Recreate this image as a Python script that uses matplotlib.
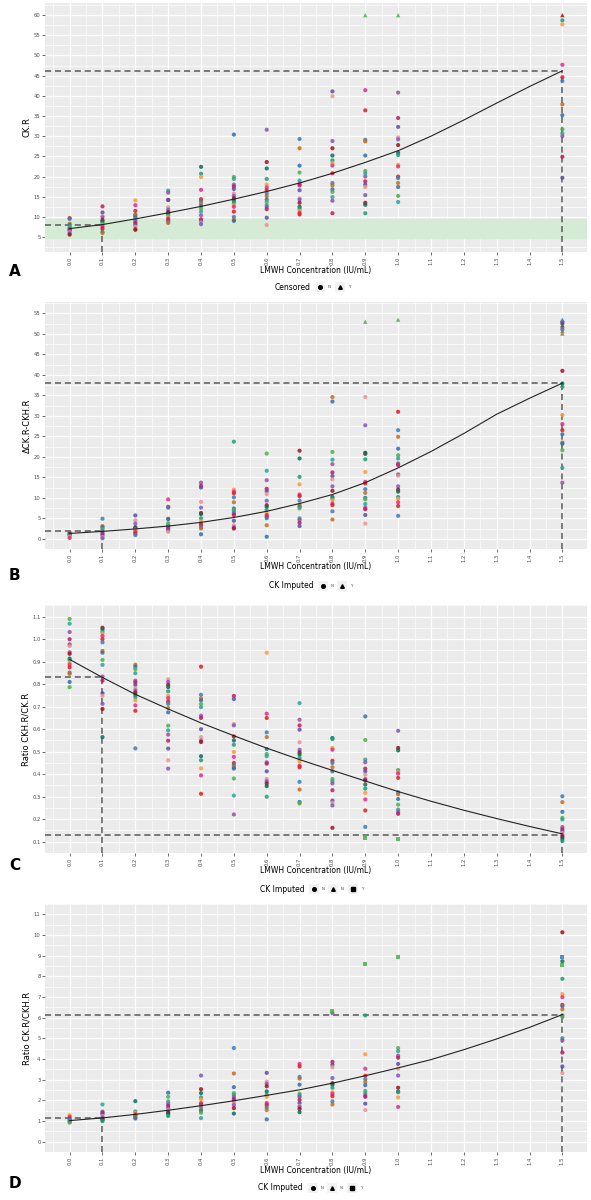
import matplotlib
matplotlib.use("Agg")
import matplotlib.pyplot as plt
from matplotlib.lines import Line2D
from matplotlib.patches import Rectangle

# LMWH concentration levels (x positions of the point columns)
conc = [0.0, 0.1, 0.2, 0.3, 0.4, 0.5, 0.6, 0.7, 0.8, 0.9, 1.0, 1.5]
x_ticks = [0.0, 0.1, 0.2, 0.3, 0.4, 0.5, 0.6, 0.7, 0.8, 0.9, 1.0, 1.1, 1.2, 1.3, 1.4, 1.5]

# A: CK.R per concentration
ck_r = [
    [9.7, 9.5, 8.3, 8.0, 7.6, 7.2, 7.0, 6.8, 6.5, 6.2, 5.9, 5.6],
    [12.6, 11.1, 10.2, 9.9, 9.2, 8.8, 8.4, 8.0, 7.6, 7.1, 6.3, 6.0],
    [14.1, 12.9, 11.5, 10.6, 10.3, 9.9, 9.5, 9.2, 8.8, 8.4, 8.0, 7.6, 7.0, 6.8],
    [16.5, 16.0, 14.2, 14.2, 12.4, 11.8, 11.2, 10.8, 10.4, 10.0, 9.6, 9.2, 8.8, 8.5],
    [22.4, 20.7, 19.9, 16.7, 14.4, 13.9, 13.3, 12.7, 12.1, 11.3, 10.4, 9.4, 8.9, 8.6, 8.2],
    [30.4, 19.9, 19.4, 18.0, 17.5, 16.9, 15.8, 15.2, 14.6, 14.0, 13.4, 12.9, 12.5, 11.3, 10.0, 9.3, 9.0],
    [31.6, 23.6, 22.0, 19.4, 18.0, 17.3, 16.6, 15.8, 15.1, 14.3, 13.7, 12.9, 12.5, 11.9, 9.8, 8.0],
    [29.3, 27.0, 22.7, 21.0, 19.0, 18.2, 17.8, 16.6, 14.6, 14.3, 13.5, 12.5, 12.0, 11.5, 11.0, 10.6],
    [41.1, 39.9, 28.8, 27.0, 25.2, 24.0, 23.3, 22.7, 20.8, 18.4, 17.8, 16.8, 16.2, 14.9, 14.0, 10.9],
    [41.4, 36.4, 29.1, 28.7, 25.2, 21.4, 20.8, 20.0, 18.8, 18.0, 17.4, 15.4, 13.5, 13.0, 10.9],
    [40.8, 34.5, 32.3, 29.7, 29.2, 27.8, 25.9, 25.3, 22.9, 22.5, 20.0, 19.6, 18.4, 17.4, 15.2, 13.7],
    [58.7, 57.7, 47.7, 44.6, 43.7, 37.9, 35.2, 31.7, 30.7, 30.0, 24.9, 19.7],
]
ck_r_cens_x = [0.9, 1.0, 1.5]
ck_r_cens_y = [60.0, 60.0, 60.0]

# B: delta CK.R - CKH.R
delta = [
    [1.5, 1.2, 1.0, 0.8, 0.5, 0.2],
    [4.9, 3.1, 2.8, 2.4, 2.0, 1.6, 1.2, 0.8, 0.4, 0.1],
    [5.7, 4.5, 3.7, 2.8, 2.6, 2.3, 2.0, 1.7, 1.3, 0.9],
    [9.6, 7.8, 7.6, 4.9, 4.8, 3.8, 3.3, 2.9, 2.5, 2.1, 1.7],
    [13.7, 12.9, 12.5, 9.0, 7.6, 6.3, 6.0, 5.0, 4.2, 3.7, 3.3, 2.8, 2.5, 1.1],
    [23.7, 12.0, 11.5, 11.1, 10.1, 8.9, 7.4, 7.0, 6.6, 6.2, 5.8, 4.4, 3.3, 2.8, 2.5],
    [20.8, 16.6, 14.3, 12.2, 11.6, 10.9, 9.3, 8.2, 7.8, 7.0, 6.2, 5.8, 5.4, 5.0, 3.3, 0.5],
    [21.5, 19.6, 15.1, 13.3, 10.8, 10.4, 9.3, 8.2, 7.8, 7.4, 5.0, 4.6, 3.9, 3.1],
    [34.6, 33.5, 21.2, 19.3, 18.2, 16.2, 15.3, 14.5, 12.8, 11.7, 10.2, 9.8, 9.4, 8.6, 8.2, 6.7, 4.7],
    [34.6, 27.7, 21.0, 20.7, 19.4, 16.3, 13.9, 13.5, 12.1, 11.2, 10.0, 9.6, 8.5, 7.6, 7.2, 5.8, 3.7],
    [31.0, 26.5, 24.9, 22.0, 20.4, 19.6, 18.4, 18.0, 15.7, 15.4, 12.8, 12.0, 11.5, 10.2, 9.7, 8.9, 8.0, 5.6],
    [52.9, 52.5, 51.6, 51.1, 41.0, 37.9, 37.1, 30.2, 28.0, 26.5, 25.5, 23.5, 23.2, 21.6, 17.3, 13.7],
]
delta_imp_x = [0.9, 1.0, 1.5, 1.5, 1.5, 1.5]
delta_imp_y = [53.0, 53.5, 53.5, 52.1, 50.7, 50.1]

# C: ratio CKH.R / CK.R
ratio_c = [
    [1.09, 1.069, 1.032, 1.0, 0.977, 0.97, 0.942, 0.935, 0.914, 0.908, 0.896, 0.887, 0.875, 0.852, 0.846, 0.81, 0.787],
    [1.051, 1.044, 1.034, 1.026, 1.014, 1.0, 0.986, 0.948, 0.94, 0.908, 0.886, 0.834, 0.816, 0.76, 0.748, 0.713, 0.69, 0.565],
    [0.887, 0.878, 0.867, 0.849, 0.816, 0.808, 0.797, 0.782, 0.772, 0.763, 0.753, 0.742, 0.728, 0.706, 0.682, 0.515],
    [0.822, 0.81, 0.797, 0.787, 0.768, 0.748, 0.738, 0.723, 0.713, 0.694, 0.675, 0.616, 0.595, 0.576, 0.549, 0.514, 0.462, 0.425],
    [0.878, 0.753, 0.737, 0.728, 0.712, 0.698, 0.66, 0.65, 0.60, 0.565, 0.55, 0.543, 0.48, 0.462, 0.426, 0.395, 0.313],
    [0.748, 0.734, 0.623, 0.617, 0.568, 0.55, 0.531, 0.499, 0.477, 0.45, 0.44, 0.431, 0.425, 0.381, 0.305, 0.221],
    [0.94, 0.669, 0.65, 0.586, 0.565, 0.512, 0.49, 0.48, 0.453, 0.447, 0.413, 0.379, 0.369, 0.359, 0.347, 0.3],
    [0.716, 0.642, 0.617, 0.598, 0.542, 0.509, 0.497, 0.487, 0.472, 0.457, 0.438, 0.431, 0.366, 0.332, 0.277, 0.27],
    [0.561, 0.556, 0.517, 0.509, 0.46, 0.45, 0.431, 0.413, 0.379, 0.369, 0.359, 0.329, 0.283, 0.273, 0.261, 0.162],
    [0.657, 0.552, 0.465, 0.453, 0.425, 0.413, 0.398, 0.379, 0.372, 0.354, 0.336, 0.317, 0.288, 0.239, 0.166],
    [0.593, 0.517, 0.506, 0.418, 0.41, 0.403, 0.384, 0.32, 0.311, 0.29, 0.265, 0.243, 0.233, 0.224],
    [0.302, 0.276, 0.233, 0.206, 0.199, 0.165, 0.155, 0.147, 0.14, 0.13, 0.122, 0.113, 0.103],
]
ratio_c_imp_x = [0.9, 1.0]
ratio_c_imp_y = [0.118, 0.113]

# D: ratio CK.R / CKH.R
ratio_d = [
    [1.28, 1.2, 1.12, 1.06, 1.0, 0.96, 0.92],
    [1.8, 1.46, 1.4, 1.33, 1.24, 1.17, 1.1, 1.05, 0.99],
    [1.96, 1.46, 1.4, 1.33, 1.28, 1.22, 1.17, 1.12],
    [2.37, 2.17, 1.95, 1.83, 1.73, 1.62, 1.55, 1.46, 1.4, 1.33, 1.24],
    [3.2, 2.54, 2.35, 2.14, 2.05, 1.87, 1.8, 1.7, 1.58, 1.49, 1.4, 1.14],
    [4.53, 3.3, 2.64, 2.35, 2.27, 2.17, 2.06, 1.98, 1.87, 1.77, 1.62, 1.36],
    [3.33, 2.91, 2.8, 2.68, 2.43, 2.27, 2.17, 1.87, 1.77, 1.65, 1.53, 1.08],
    [3.76, 3.64, 3.13, 3.05, 2.76, 2.32, 2.24, 2.17, 2.02, 1.87, 1.73, 1.68, 1.58, 1.43],
    [6.22, 3.86, 3.72, 3.6, 3.08, 2.83, 2.76, 2.61, 2.39, 2.32, 2.2, 1.95, 1.8],
    [6.11, 4.23, 3.53, 3.19, 3.02, 2.88, 2.73, 2.46, 2.35, 2.24, 2.17, 1.84, 1.53],
    [4.53, 4.38, 4.16, 4.06, 3.76, 3.53, 3.2, 2.61, 2.43, 2.39, 2.14, 1.68],
    [10.13, 8.73, 7.88, 7.14, 6.99, 6.62, 6.55, 6.4, 6.11, 6.03, 5.0, 4.9, 4.31, 3.64, 3.32],
]
ratio_d_imp_x = [0.8, 0.9, 1.0, 1.5, 1.5]
ratio_d_imp_y = [6.33, 8.58, 8.95, 8.95, 8.57]

# fitted curves
fit_x = [0.0, 0.1, 0.2, 0.3, 0.4, 0.5, 0.6, 0.7, 0.8, 0.9, 1.0, 1.1, 1.2, 1.3, 1.4, 1.5]
fit_a = [7.1, 8.1, 9.5, 11.0, 12.6, 14.4, 16.3, 18.4, 20.8, 23.5, 26.4, 30.0, 34.0, 38.2, 42.3, 46.2]
fit_b = [1.3, 1.8, 2.4, 3.1, 4.0, 5.2, 6.7, 8.6, 10.8, 13.7, 17.3, 21.3, 25.7, 30.4, 34.3, 38.0]
fit_c = [0.91, 0.83, 0.755, 0.69, 0.628, 0.571, 0.516, 0.465, 0.417, 0.37, 0.323, 0.28, 0.24, 0.203, 0.168, 0.135]
fit_d = [1.02, 1.15, 1.32, 1.52, 1.74, 1.98, 2.24, 2.51, 2.83, 3.19, 3.57, 3.97, 4.45, 4.97, 5.53, 6.15]

palette = ["#E41A1C", "#1B9E77", "#7E57C2", "#C2185B", "#4DAF4A", "#377EB8",
           "#FF9933", "#A50F15", "#5C4DA8", "#26A69A", "#C76B1A", "#E7298A",
           "#00705A", "#F28E8E", "#984EA3", "#2E6FB0"]

W, H = 591, 1200
fig = plt.figure(figsize=(W / 100, H / 100), dpi=100)
fig.patch.set_facecolor("white")


def fy(y):
    return 1 - y / H


def fx(x):
    return x / W


def make_axes(top, bottom):
    ax = fig.add_axes([fx(45), fy(bottom), fx(587) - fx(45), fy(top) - fy(bottom)])
    ax.set_facecolor("#EBEBEB")
    for s in ax.spines.values():
        s.set_visible(False)
    ax.set_axisbelow(True)
    return ax


def style(ax, ylim, yticks, ylabels, ylabel):
    ax.set_xlim(-0.075, 1.575)
    ax.set_ylim(*ylim)
    ax.set_xticks(x_ticks)
    ax.set_xticklabels(["%.1f" % v for v in x_ticks], rotation=90)
    ax.set_xticks([v + 0.05 for v in x_ticks[:-1]] + [-0.05], minor=True)
    ax.set_yticks(yticks)
    ax.set_yticklabels(ylabels)
    step = yticks[1] - yticks[0]
    ax.set_yticks([v + step / 2 for v in yticks] + [yticks[0] - step / 2], minor=True)
    ax.grid(which="major", color="white", lw=0.9)
    ax.grid(which="minor", color="white", lw=0.45)
    ax.tick_params(which="major", length=2, width=0.5, color="#333333",
                   labelsize=3.8, labelcolor="#4D4D4D", pad=1.2)
    ax.tick_params(which="minor", length=0)
    ax.set_ylabel(ylabel, fontsize=6, labelpad=1.5)


def draw_points(ax, values, shift):
    for i, col in enumerate(values):
        xs = [conc[i]] * len(col)
        cols = [palette[(j * 5 + i * 3 + shift) % len(palette)] for j in range(len(col))]
        ax.scatter(xs, col, s=9, c=cols, alpha=0.85, lw=0, zorder=3)


def guides(ax, x, y):
    x0 = ax.get_xlim()[0]
    y0 = ax.get_ylim()[0]
    kw = dict(color="#5A5A5A", lw=1.1, dashes=(4, 2.5), zorder=2)
    ax.plot([x0, x], [y, y], **kw)
    ax.plot([x, x], [y0, y], **kw)


def legend_row(y, title, title_x, keys):
    fig.text(fx(title_x), fy(y), title, fontsize=5.5, ha="right", va="center")
    for kx, marker, lab in keys:
        fig.add_artist(Rectangle((fx(kx - 5), fy(y + 5)), fx(10), 10 / H,
                                 transform=fig.transFigure, color="#F2F2F2", lw=0))
        fig.add_artist(Line2D([fx(kx)], [fy(y)], marker=marker, ms=2.6, color="black",
                              lw=0, transform=fig.transFigure))
        fig.text(fx(kx + 8), fy(y), lab, fontsize=3, va="center", color="#4D4D4D")


def xlabel_and_letter(yl, letter, ylet):
    fig.text(fx(316), fy(yl), "LMWH Concentration (IU/mL)", fontsize=5.5, ha="center", va="center")
    fig.text(fx(9), fy(ylet), letter, fontsize=11, fontweight="bold", ha="left", va="center")


# ---- A
axA = make_axes(3, 252)
style(axA, (1.3, 63), list(range(5, 61, 5)), [str(v) for v in range(5, 61, 5)], "CK.R")
axA.axhspan(4.7, 9.4, color="#D5EBD5", zorder=1)
draw_points(axA, ck_r, 0)
axA.scatter(ck_r_cens_x, ck_r_cens_y, marker="^", s=10, c=["#4DAF4A", "#4DAF4A", "#A50F15"],
            alpha=0.85, lw=0, zorder=3)
axA.plot(fit_x, fit_a, color="#222222", lw=0.8, zorder=4)
guides(axA, 0.1, 8.1)
guides(axA, 1.5, 46.2)
xlabel_and_letter(270, "A", 272)
legend_row(287, "Censored", 311, [(320, "o", "N"), (340, "^", "Y")])

# ---- B
axB = make_axes(302, 549)
style(axB, (-2.5, 57.8), list(range(0, 56, 5)), [str(v) for v in range(0, 56, 5)], "ΔCK.R-CKH.R")
draw_points(axB, delta, 2)
axB.scatter(delta_imp_x, delta_imp_y, marker="^", s=10,
            c=["#4DAF4A", "#4DAF4A", "#377EB8", "#00705A", "#1B9E77", "#C76B1A"],
            alpha=0.85, lw=0, zorder=3)
axB.plot(fit_x, fit_b, color="#222222", lw=0.8, zorder=4)
guides(axB, 0.1, 1.8)
guides(axB, 1.5, 38.0)
xlabel_and_letter(567, "B", 575)
legend_row(586, "CK Imputed", 314, [(323, "o", "N"), (342, "^", "Y")])

# ---- C
axC = make_axes(605, 853)
cy = [round(0.1 * k, 1) for k in range(1, 12)]
style(axC, (0.053, 1.152), cy, ["%.1f" % v for v in cy], "Ratio CKH.R/CK.R")
draw_points(axC, ratio_c, 4)
axC.scatter(ratio_c_imp_x, ratio_c_imp_y, marker="s", s=8, c="#4DAF4A", alpha=0.85, lw=0, zorder=3)
axC.plot(fit_x, fit_c, color="#222222", lw=0.8, zorder=4)
guides(axC, 0.1, 0.83)
guides(axC, 1.5, 0.13)
xlabel_and_letter(871, "C", 866)
legend_row(889, "CK Imputed", 305, [(314, "o", "N"), (333, "^", "N"), (353, "s", "Y")])

# ---- D
axD = make_axes(904, 1152)
style(axD, (-0.03, 11.0), list(range(0, 12)), [str(v) for v in range(0, 12)], "Ratio CK.R/CKH.R")
draw_points(axD, ratio_d, 6)
axD.scatter(ratio_d_imp_x, ratio_d_imp_y, marker="s", s=8,
            c=["#4DAF4A", "#4DAF4A", "#4DAF4A", "#377EB8", "#4DAF4A"], alpha=0.85, lw=0, zorder=3)
axD.plot(fit_x, fit_d, color="#222222", lw=0.8, zorder=4)
guides(axD, 0.1, 1.15)
guides(axD, 1.5, 6.15)
xlabel_and_letter(1170, "D", 1183)
legend_row(1188, "CK Imputed", 303, [(313, "o", "N"), (332, "^", "N"), (352, "s", "Y")])

fig.savefig("out.png", dpi=100, facecolor="white")
